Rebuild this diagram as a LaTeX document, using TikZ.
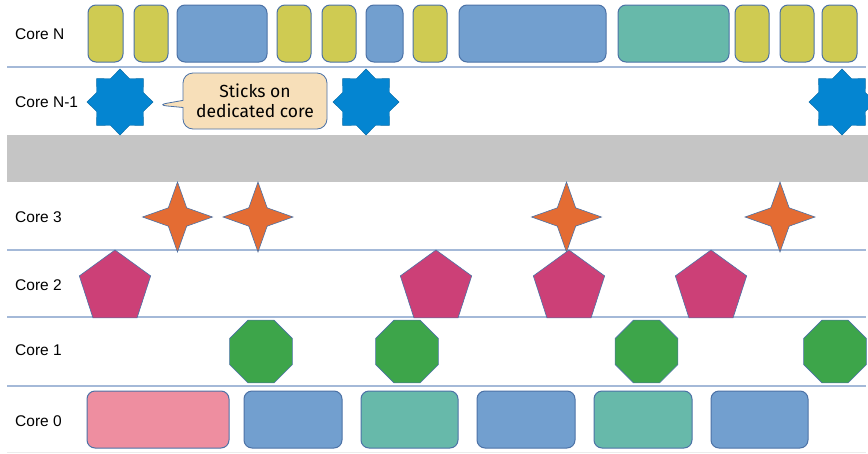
\documentclass[tikz,border=0pt]{standalone}
\usepackage{fontspec}
\setmainfont{Liberation Sans}
\newfontfamily\calloutfont{Fira Sans}
\usetikzlibrary{shapes.geometric,shapes.callouts}

\definecolor{taskyel}{HTML}{CFCB52}
\definecolor{taskblue}{HTML}{729FCF}
\definecolor{taskteal}{HTML}{67B9AA}
\definecolor{taskpink}{HTML}{EE8EA0}
\definecolor{edgeblue}{HTML}{4C72A6}
\definecolor{sepblue}{HTML}{A4B9D8}
\definecolor{starblue}{HTML}{0485D1}
\definecolor{starorange}{HTML}{E46C33}
\definecolor{pentamag}{HTML}{CC4077}
\definecolor{octgreen}{HTML}{3DA54A}
\definecolor{notewheat}{HTML}{F7DFB9}
\definecolor{bandgray}{HTML}{C5C5C5}

\tikzset{
  corelbl/.style={anchor=west, inner sep=0pt, font=\fontsize{15.5}{18}\selectfont},
  sepline/.style={sepblue, line width=1.8pt},
  taskbox/.style={draw=edgeblue, line width=1pt, rounded corners=8pt},
  bigstar/.style={star, star points=8, star point ratio=1.31, minimum size=66pt,
    inner sep=0pt, fill=starblue, draw=starblue!80!black, line width=0.4pt},
  smallstar/.style={star, star points=4, star point ratio=2.7, minimum size=70pt,
    inner sep=0pt, fill=starorange, draw=edgeblue, line width=0.6pt},
  penta/.style={regular polygon, regular polygon sides=5, minimum size=75pt,
    inner sep=0pt, fill=pentamag, draw=edgeblue, line width=0.6pt},
  octa/.style={regular polygon, regular polygon sides=8, minimum size=68pt,
    inner sep=0pt, fill=octgreen, draw=edgeblue, line width=0.6pt},
  note/.style={rectangle callout, rounded corners=10pt, fill=notewheat,
    draw=edgeblue, line width=0.8pt, minimum width=144pt, minimum height=56pt,
    align=center, inner sep=1pt, font=\fontsize{17.5}{20}\calloutfont}
}

\begin{document}
\begin{tikzpicture}[x=1pt, y=-1pt]
	\useasboundingbox (0,0) rectangle (868,453);
	\clip (0,0) rectangle (868,453);

	% rows
	\fill[bandgray] (7,135) rectangle (868,182);
	\draw[sepline] (7,67) -- (866,67);
	\draw[sepline] (7,250) -- (866,250);
	\draw[sepline] (7,317) -- (866,317);
	\draw[sepline] (7,386) -- (866,386);
	\draw[gray!15, line width=1pt] (7,452) -- (866,452);

	\node[corelbl] (cN) at (15,34) {Core N};
	\node[corelbl] (cN1) at (15,102) {Core N-1};
	\node[corelbl] (c3) at (15,217) {Core 3};
	\node[corelbl] (c2) at (15,285) {Core 2};
	\node[corelbl] (c1) at (15,350) {Core 1};
	\node[corelbl] (c0) at (15,421) {Core 0};

	% Core N
	\draw[taskbox, fill=taskyel] (88,5) rectangle (123,62);
	\draw[taskbox, fill=taskyel] (134,5) rectangle (168,62);
	\draw[taskbox, fill=taskblue] (177,5) rectangle (267,62);
	\draw[taskbox, fill=taskyel] (277,5) rectangle (311,62);
	\draw[taskbox, fill=taskyel] (322,5) rectangle (356,62);
	\draw[taskbox, fill=taskblue] (366,5) rectangle (403,62);
	\draw[taskbox, fill=taskyel] (413,5) rectangle (447,62);
	\draw[taskbox, fill=taskblue] (459,5) rectangle (606,62);
	\draw[taskbox, fill=taskteal] (618,5) rectangle (729,62);
	\draw[taskbox, fill=taskyel] (735,5) rectangle (769,62);
	\draw[taskbox, fill=taskyel] (780,5) rectangle (814,62);
	\draw[taskbox, fill=taskyel] (822,5) rectangle (857,62);

	% Core N-1
	\node[bigstar] (pin1) at (120,102) {};
	\node[bigstar] (pin2) at (366,102) {};
	\node[bigstar] (pin3) at (842,102) {};
	\coordinate (tip) at (157,105);
	\node[note, callout absolute pointer=(tip)] (stick) at (255,101) {Sticks on\\dedicated core};

	% Core 3
	\node[smallstar] (st1) at (177.5,217) {};
	\node[smallstar] (st2) at (258,217) {};
	\node[smallstar] (st3) at (566.5,217) {};
	\node[smallstar] (st4) at (780,217) {};

	% Core 2
	\node[penta] (pe1) at (115,287.5) {};
	\node[penta] (pe2) at (436,287.5) {};
	\node[penta] (pe3) at (569,287.5) {};
	\node[penta] (pe4) at (711,287.5) {};

	% Core 1
	\node[octa] (oc1) at (261,351.5) {};
	\node[octa] (oc2) at (407,351.5) {};
	\node[octa] (oc3) at (646.5,351.5) {};
	\node[octa] (oc4) at (835,351.5) {};

	% Core 0
	\draw[taskbox, fill=taskpink] (87,391) rectangle (229,448);
	\draw[taskbox, fill=taskblue] (244,391) rectangle (342,448);
	\draw[taskbox, fill=taskteal] (361,391) rectangle (458,448);
	\draw[taskbox, fill=taskblue] (477,391) rectangle (575,448);
	\draw[taskbox, fill=taskteal] (594,391) rectangle (692,448);
	\draw[taskbox, fill=taskblue] (711,391) rectangle (808,448);
\end{tikzpicture}
\end{document}
